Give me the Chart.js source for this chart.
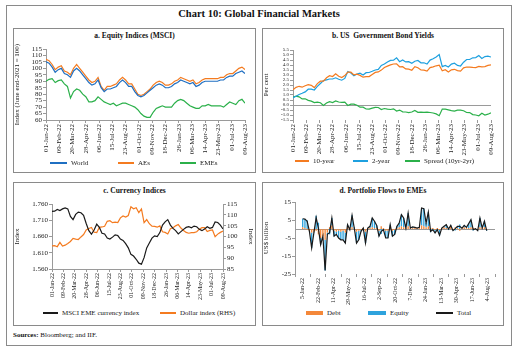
<!DOCTYPE html>
<html><head><meta charset="utf-8">
<script src="https://cdn.jsdelivr.net/npm/chart.js@4.4.0/dist/chart.umd.min.js"></script>
<style>
body{margin:0;background:#fff;width:517px;height:351px;position:relative;overflow:hidden;font-family:"Liberation Serif",serif;color:#111;}
.frame{position:absolute;border:1px solid #8a8a8a;box-sizing:border-box;}
.ptitle{position:absolute;font-weight:bold;font-size:7.5px;text-align:center;}
canvas{position:absolute;}
.lg{position:absolute;font-size:7px;line-height:8px;white-space:nowrap;color:#222;}
.lg i{position:absolute;display:block;}
</style></head><body>
<div class="frame" style="left:6px;top:5px;width:506px;height:341px;"></div>
<div style="position:absolute;left:6px;width:506px;top:8px;text-align:center;font-weight:bold;font-size:10.5px;">Chart 10: Global Financial Markets</div>
<div class="frame" style="left:13px;top:28px;width:243px;height:145px"></div>
<div class="frame" style="left:262px;top:28px;width:242px;height:145px"></div>
<div class="frame" style="left:13px;top:182px;width:243px;height:144px"></div>
<div class="frame" style="left:262px;top:182px;width:242px;height:144px"></div>
<div class="ptitle" style="left:13px;width:243px;top:31px;">a. Equity Indices (MSCI)</div>
<div class="ptitle" style="left:262px;width:242px;top:31px;">b. US&nbsp; Government Bond Yields</div>
<div class="ptitle" style="left:13px;width:243px;top:186px;">c. Currency Indices</div>
<div class="ptitle" style="left:262px;width:242px;top:186px;">d. Portfolio Flows to EMEs</div>
<div style="position:absolute;left:13px;top:331px;font-size:7px;"><b>Sources:</b> Bloomberg; and IIF.</div>
<canvas id="ca" width="242" height="122" style="left:13px;top:40px"></canvas>
<canvas id="cb" width="241" height="122" style="left:262px;top:40px"></canvas>
<canvas id="cc" width="242" height="106" style="left:13px;top:195px"></canvas>
<canvas id="cd" width="241" height="111" style="left:262px;top:195px"></canvas>
<script>
// ---------- tick labels ----------
const dailyTickLabels = ['01-Jan-22','09-Feb-22','20-Mar-22','28-Apr-22','06-Jun-22','15-Jul-22','23-Aug-22','01-Oct-22','09-Nov-22','18-Dec-22','26-Jan-23','06-Mar-23','14-Apr-23','23-May-23','01-Jul-23','09-Aug-23'];
const weeklyTickLabels = ['5-Jan-22','22-Feb-22','11-Apr-22','29-May-22','16-Jul-22','2-Sep-22','20-Oct-22','7-Dec-22','24-Jan-23','13-Mar-23','30-Apr-23','17-Jun-23','4-Aug-23'];
const dailyTickStep = 39;   // days between date labels (panels a-c)
const dailySampleStep = 9;  // days between samples (panels a-c)
const weeklyTickStep = 48;  // days between date labels (panel d)
const weeklySampleStep = 7; // weekly data (panel d)

// ---------- a. Equity indices (June end-2021 = 100) ----------
const world = [105,104,101,97,99,100,96,95,93,98,100,98,95,92,89,87,88,91,85,82,84,84,85,86,89,91,89,86,86,82,79,78,79,81,83,85,87,88,87,85,85,86,88,89,91,90,89,88,89,86,87,89,90,90,90,90,90,91,91,93,94,94,96,97,98,96];
const aes   = [107,106,103,99,101,102,98,97,95,100,103,100,97,94,91,89,90,93,86,83,86,86,87,88,91,93,91,88,88,84,80,79,80,82,84,87,89,90,89,87,87,88,90,91,93,92,91,90,91,88,89,91,92,92,92,92,92,93,93,95,96,96,98,100,101,99];
const emes  = [90,91.5,92,89,90.5,91,88,86,77,82,84,83,80,78,74,74,75,78,76,74,73,72,73,71,72,73,73,72,71,70,68,65,63,62,62,66,69,70,71,70,70,70,73,75,76,75,73,71,70,69,69,71,71,72,71,71,71,71,70,72,74,73,72,75,76,73];

// ---------- b. US government bond yields (per cent) ----------
const y10 = [1.51,1.76,1.87,1.78,1.93,2.04,1.97,1.74,2.14,2.38,2.39,2.72,2.93,2.85,3.13,2.88,2.75,2.94,3.30,3.28,3.01,3.08,2.96,2.78,2.83,2.84,3.05,3.26,3.31,3.49,3.75,3.89,4.01,4.10,4.12,3.82,3.83,3.61,3.58,3.48,3.84,3.72,3.50,3.48,3.39,3.74,3.82,3.92,3.98,3.43,3.53,3.31,3.52,3.57,3.44,3.39,3.71,3.80,3.79,3.76,3.74,3.86,3.82,3.84,3.96,4.01];
const y2  = [0.73,0.88,1.05,1.17,1.31,1.58,1.58,1.50,1.86,2.15,2.44,2.52,2.60,2.60,2.72,2.58,2.48,2.66,3.35,3.20,2.92,3.10,3.18,3.00,3.23,3.25,3.37,3.50,3.56,3.95,4.10,4.31,4.46,4.48,4.72,4.33,4.51,4.31,4.34,4.18,4.38,4.45,4.22,4.22,4.10,4.49,4.62,4.81,5.05,3.84,3.95,3.80,4.09,4.18,3.96,3.90,4.28,4.55,4.55,4.72,4.74,4.94,4.65,4.84,4.88,4.80];
const spread = [0.78,0.88,0.82,0.61,0.62,0.46,0.39,0.24,0.28,0.23,-0.05,0.20,0.33,0.25,0.41,0.30,0.27,0.28,-0.05,0.08,0.09,-0.02,-0.22,-0.22,-0.40,-0.41,-0.32,-0.24,-0.25,-0.46,-0.35,-0.42,-0.45,-0.38,-0.60,-0.51,-0.68,-0.70,-0.76,-0.70,-0.54,-0.73,-0.72,-0.74,-0.71,-0.75,-0.80,-0.89,-1.07,-0.41,-0.42,-0.49,-0.57,-0.61,-0.52,-0.51,-0.57,-0.75,-0.76,-0.96,-1.00,-1.08,-0.83,-1.00,-0.92,-0.79];

// ---------- c. Currency indices ----------
const emeCurrency = [1.737,1.738,1.743,1.740,1.745,1.748,1.745,1.722,1.712,1.728,1.735,1.733,1.725,1.700,1.678,1.667,1.680,1.698,1.688,1.670,1.668,1.655,1.652,1.658,1.665,1.663,1.652,1.648,1.638,1.625,1.605,1.600,1.590,1.578,1.575,1.595,1.625,1.640,1.655,1.662,1.660,1.672,1.695,1.705,1.712,1.695,1.685,1.678,1.668,1.675,1.682,1.688,1.690,1.687,1.692,1.690,1.682,1.678,1.683,1.690,1.685,1.688,1.705,1.703,1.695,1.683];
const dollarIndex = [95.7,95.8,95.3,97.3,95.6,96.0,96.8,97.7,99.1,98.8,98.6,99.8,100.9,103.0,103.7,104.2,102.0,101.8,104.2,104.4,104.7,107.0,107.3,106.4,106.6,106.4,108.6,109.5,109.0,109.7,113.7,112.8,113.3,111.0,112.7,106.4,107.8,105.9,104.8,104.7,104.3,104.9,102.2,101.9,101.2,103.6,104.0,104.9,105.5,103.9,102.8,101.9,101.5,101.8,101.8,102.2,103.4,104.1,104.1,102.3,102.8,103.0,99.9,101.1,101.9,102.5];

// ---------- d. Portfolio flows to EMEs (US$ billion, weekly) ----------
const debtFlows   = [1.0,0.5,-0.5,-1.0,-2.0,-1.5,-1.0,-3.0,-5.0,-4.0,-6.0,-2.0,1.0,2.0,-1.0,-1.5,-1.0,-1.5,-1.0,-2.0,1.0,-0.5,1.0,-0.5,-1.5,-1.0,-0.5,0.5,-1.5,0.5,0.5,1.0,0.5,0.5,-1.0,1.5,0.5,-1.0,-1.0,0.5,-1.0,-0.5,0.5,1.0,1.5,1.0,0.5,1.5,0.5,0.5,0.5,0.5,0.5,2.0,1.5,1.0,1.5,0.5,0.5,-0.5,0.5,-0.5,0.5,1.0,0.5,0.5,1.5,-0.5,1.0,0.5,-1.0,0.5,1.0,0.5,0.5,1.0,0.5,0.5,-0.5,1.0,0.5,1.0,-0.5];
const equityFlows = [4.7,5.0,4.8,-0.3,-8.5,-0.5,7.3,3.5,-3.7,0.0,-17.0,-1.0,-3.0,4.1,-3.0,-1.5,-4.0,-4.5,-5.0,-5.8,1.4,0.1,6.6,1.0,-6.3,-5.0,-0.8,0.0,-6.3,0.0,1.0,5.1,3.8,1.5,-3.0,-2.8,-0.9,-4.0,-4.0,1.9,-3.0,-2.5,1.0,2.3,6.5,5.1,0.0,7.4,0.0,0.7,0.4,0.0,0.4,9.7,9.8,2.3,7.9,-1.8,-0.9,-1.7,-0.9,-3.0,0.0,0.5,1.9,-0.5,0.5,-0.4,-0.8,1.0,2.5,0.0,1.0,0.4,2.5,4.2,-0.9,-0.3,-0.4,5.1,0.0,3.3,-0.4];
const totalFlows  = [5.7,5.5,4.3,-1.3,-10.5,-2.0,6.3,0.5,-8.7,-4.0,-23.0,-3.0,-2.0,6.1,-4.0,-3.0,-5.0,-6.0,-6.0,-7.8,2.4,-0.4,7.6,0.5,-7.8,-6.0,-1.3,0.5,-7.8,0.5,1.5,6.1,4.3,2.0,-4.0,-1.3,-0.4,-5.0,-5.0,2.4,-4.0,-3.0,1.5,3.3,8.0,6.1,0.5,8.9,0.5,1.2,0.9,0.5,0.9,11.7,11.3,3.3,9.4,-1.3,-0.4,-2.2,-0.4,-3.5,0.5,1.5,2.4,0.0,2.0,-0.9,0.2,1.5,1.5,0.5,2.0,0.9,3.0,5.2,-0.4,0.2,-0.9,6.1,0.5,4.3,-0.9];

// ---------- helpers ----------
const pts = (arr, step) => arr.map((v, i) => ({x: i * step, y: v}));
Chart.defaults.font.family = '"Liberation Serif", serif';
Chart.defaults.font.size = 7;
Chart.defaults.color = '#222';
Chart.defaults.animation = false;
const axisGrey = '#9a9a9a';

const zeroLine = {
  id: 'zeroLine',
  beforeDatasetsDraw(chart) {
    const s = chart.scales.y, ctx = chart.ctx, a = chart.chartArea;
    const y = Math.round(s.getPixelForValue(0)) + 0.5;
    ctx.save(); ctx.strokeStyle = axisGrey; ctx.lineWidth = 1;
    ctx.beginPath(); ctx.moveTo(a.left, y); ctx.lineTo(a.right, y); ctx.stroke(); ctx.restore();
  }
};

function xAxis(max, step, labels, fontSize, h, border) {
  return {
    type: 'linear', min: 0, max: max,
    border: {display: border, color: axisGrey},
    grid: {drawOnChartArea: false, drawTicks: true, tickLength: 3, color: axisGrey},
    ticks: {stepSize: step, autoSkip: false, maxRotation: 90, minRotation: 90, padding: 1,
      font: {size: fontSize}, callback: v => labels[Math.round(v / step)]},
    afterFit: s => { s.height = h; }
  };
}
function yAxis(min, max, step, fmt, fontSize, w, title, pos) {
  return {
    type: 'linear', position: pos || 'left', min: min, max: max,
    border: {display: true, color: axisGrey},
    grid: {drawOnChartArea: false, drawTicks: true, tickLength: 3, color: axisGrey},
    ticks: {stepSize: step, autoSkip: false, padding: 1, font: {size: fontSize}, callback: fmt},
    title: {display: true, text: title, font: {size: 7}, padding: {top: 0, bottom: 1}},
    afterFit: s => { s.width = w; }
  };
}
const noLegend = {legend: {display: false}, tooltip: {enabled: false}};
const lineDs = (label, data, color, w) => ({type: 'line', label, data, borderColor: color, backgroundColor: color,
  borderWidth: w || 1.2, pointRadius: 0, tension: 0, fill: false});

// HTML legend built from the chart's own datasets
function htmlLegend(chart, left, top, xs, kinds) {
  chart.data.datasets.forEach((ds, i) => {
    const d = document.createElement('div');
    d.className = 'lg';
    const x = xs[i];
    d.style.left = (left + x[1]) + 'px';
    d.style.top = (top - 4) + 'px';
    d.textContent = ds.label;
    const m = document.createElement('i');
    const h = kinds[i] === 'box' ? 4 : 2;
    m.style.width = (x[0] - x[1] + 0) + 'px';
    m.style.left = (x[0] - x[1]) + 'px';
    m.style.width = (x[0]) + 'px';
    document.body.appendChild(d);
    const mk = document.createElement('div');
    mk.style.position = 'absolute';
    mk.style.left = (left + x[0]) + 'px';
    mk.style.width = (x[1] - x[0] - 4) + 'px';
    mk.style.top = (top - h / 2) + 'px';
    mk.style.height = h + 'px';
    mk.style.background = ds.borderColor && kinds[i] !== 'box' ? ds.borderColor : ds.backgroundColor;
    document.body.appendChild(mk);
  });
}

// ---------- a ----------
const chartA = new Chart(document.getElementById('ca'), {
  type: 'line',
  data: {datasets: [
    lineDs('World', pts(world, dailySampleStep), '#1f6fc2'),
    lineDs('AEs', pts(aes, dailySampleStep), '#f47b20'),
    lineDs('EMEs', pts(emes, dailySampleStep), '#2bb04a')
  ]},
  options: {responsive: false, layout: {padding: {top: 9, right: 10, left: 0, bottom: 0}},
    plugins: noLegend,
    scales: {
      x: xAxis(585, dailyTickStep, dailyTickLabels, 7, 42, true),
      y: yAxis(60, 115, 5, v => v, 7, 33, 'Index (June end-2021 = 100)')
    }}
});
htmlLegend(chartA, 0, 163, [[50, 71], [118, 138], [180, 200]], ['line', 'line', 'line']);

// ---------- b ----------
const chartB = new Chart(document.getElementById('cb'), {
  type: 'line',
  data: {datasets: [
    lineDs('10-year', pts(y10, dailySampleStep), '#f47b20'),
    lineDs('2-year', pts(y2, dailySampleStep), '#1ea0df'),
    lineDs('Spread (10yr-2yr)', pts(spread, dailySampleStep), '#2bb04a')
  ]},
  plugins: [zeroLine],
  options: {responsive: false, layout: {padding: {top: 10, right: 12, left: 0, bottom: 0}},
    plugins: noLegend,
    scales: {
      x: xAxis(585, dailyTickStep, dailyTickLabels, 7, 42, false),
      y: yAxis(-1.5, 5.5, 0.5, v => v.toFixed(1), 5, 31, 'Per cent')
    }}
});
htmlLegend(chartB, 0, 161, [[295, 313], [353, 372], [405, 424]], ['line', 'line', 'line']);

// ---------- c ----------
const chartC = new Chart(document.getElementById('cc'), {
  type: 'line',
  data: {datasets: [
    Object.assign(lineDs('MSCI EME currency index', pts(emeCurrency, dailySampleStep), '#1a1a1a'), {yAxisID: 'y'}),
    Object.assign(lineDs('Dollar index (RHS)', pts(dollarIndex, dailySampleStep), '#f47b20'), {yAxisID: 'y1'})
  ]},
  options: {responsive: false, layout: {padding: {top: 9, right: 0, left: 0, bottom: 0}},
    plugins: noLegend,
    scales: {
      x: xAxis(585, dailyTickStep, dailyTickLabels, 6, 32, true),
      y: yAxis(1.56, 1.76, 0.05, v => v.toFixed(3), 7, 39, 'Index'),
      y1: yAxis(85, 115, 5, v => v, 7, 32, 'Index', 'right')
    }}
});
htmlLegend(chartC, 0, 313, [[43, 62], [160, 180]], ['line', 'line']);

// ---------- d ----------
const chartD = new Chart(document.getElementById('cd'), {
  data: {datasets: [
    {type: 'bar', label: 'Debt', data: pts(debtFlows, weeklySampleStep), backgroundColor: '#f4883a', stack: 's', order: 2,
      barPercentage: 0.6, categoryPercentage: 1},
    {type: 'bar', label: 'Equity', data: pts(equityFlows, weeklySampleStep), backgroundColor: '#2ea3dd', stack: 's', order: 2,
      barPercentage: 0.6, categoryPercentage: 1},
    Object.assign(lineDs('Total', pts(totalFlows, weeklySampleStep), '#1a1a1a'), {order: 1})
  ]},
  plugins: [zeroLine],
  options: {responsive: false, layout: {padding: {top: 7, right: 8, left: 0, bottom: 0}},
    plugins: noLegend,
    scales: {
      x: Object.assign(xAxis(576, weeklyTickStep, weeklyTickLabels, 6, 32, false), {stacked: true}),
      y: Object.assign(yAxis(-25, 15, 10, v => v, 7, 33, 'US$ billion'), {stacked: true})
    }}
});
htmlLegend(chartD, 0, 313, [[306, 327], [368, 390], [436, 457]], ['box', 'box', 'line']);
</script>
</body></html>
